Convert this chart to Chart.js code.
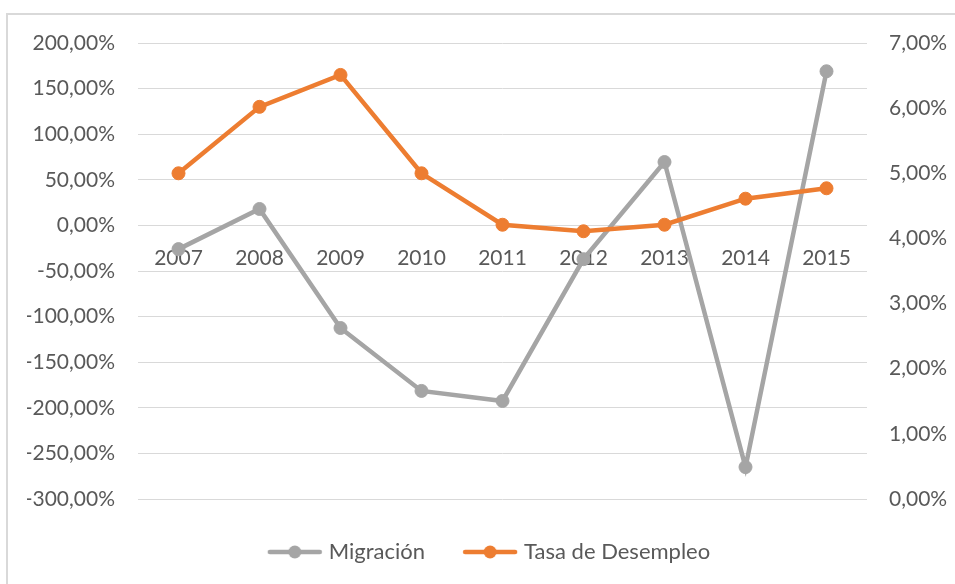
<!DOCTYPE html>
<html>
<head>
<meta charset="utf-8">
<script src="https://cdn.jsdelivr.net/npm/chart.js@4.4.0/dist/chart.umd.min.js"></script>
<style>
body { margin: 0; background: #fff; overflow: hidden; }
#frame { position: absolute; left: 6px; top: 13px; width: 1000px; height: 1000px; border: 2px solid #d9d9d9; }
#mycanvas { position: absolute; left: 0; top: 0; }
</style>
</head>
<body>
<div id="frame"></div>
<canvas id="mycanvas" width="955" height="584"></canvas>
<script>
// values, in percent
var years = ['2007', '2008', '2009', '2010', '2011', '2012', '2013', '2014', '2015'];
var migracion = [-26, 18, -112.5, -181.5, -192.5, -37, 69.5, -265, 169];
var desempleo = [5.0, 6.02, 6.51, 5.0, 4.21, 4.11, 4.21, 4.61, 4.77];

var leftMin = -300, leftMax = 200, leftStep = 50;
var rightMin = 0, rightMax = 7, rightStep = 1;

var grey = '#a5a5a5';
var orange = '#ed7d31';
var textColor = '#595959';

Chart.defaults.font.family = 'Lato';
Chart.defaults.font.size = 21;
Chart.defaults.color = textColor;

function pct(v) {
	return Number(v).toFixed(2).replace('.', ',') + '%';
}

// line + dot sample for the legend
function legendMark(color) {
	var c = document.createElement('canvas');
	c.width = 60;
	c.height = 16;
	var g = c.getContext('2d');
	g.strokeStyle = color;
	g.lineWidth = 4.5;
	g.lineCap = 'round';
	g.beginPath();
	g.moveTo(5, 8);
	g.lineTo(55, 8);
	g.stroke();
	g.fillStyle = color;
	g.beginPath();
	g.arc(30, 8, 6.5, 0, Math.PI * 2);
	g.fill();
	return c;
}
var marks = [legendMark(grey), legendMark(orange)];

var chartdata = {
	labels: years,
	datasets: [
		{
			label: 'Migración',
			data: migracion,
			yAxisID: 'y',
			order: 2,
			borderColor: grey,
			backgroundColor: grey,
			borderWidth: 4.5,
			pointRadius: 6.5,
			pointBorderWidth: 1,
			pointBackgroundColor: grey,
			pointBorderColor: grey,
			tension: 0,
			fill: false
		},
		{
			label: 'Tasa de Desempleo',
			data: desempleo,
			yAxisID: 'y1',
			order: 1,
			borderColor: orange,
			backgroundColor: orange,
			borderWidth: 4.5,
			pointRadius: 6.5,
			pointBorderWidth: 1,
			pointBackgroundColor: orange,
			pointBorderColor: orange,
			tension: 0,
			fill: false
		}
	]
};

var ctx = document.getElementById('mycanvas');

var LineGraph = new Chart(ctx, {
	type: 'line',
	data: chartdata,
	options: {
		responsive: false,
		animation: false,
		layout: { padding: { top: 43, bottom: 11, left: 27, right: 0 } },
		plugins: {
			tooltip: { enabled: false },
			legend: {
				position: 'bottom',
				labels: {
					usePointStyle: true,
					pointStyleWidth: 46,
					padding: 42,
					color: textColor,
					font: { size: 22 },
					generateLabels: function(chart) {
						return chart.data.datasets.map(function(ds, i) {
							return {
								text: ds.label,
								pointStyle: marks[i],
								fontColor: textColor,
								hidden: false,
								datasetIndex: i,
								lineWidth: 0,
								strokeStyle: 'rgba(0,0,0,0)',
								fillStyle: 'rgba(0,0,0,0)'
							};
						});
					}
				}
			}
		},
		scales: {
			x: {
				position: { y: 0 },
				offset: true,
				z: 1,
				grid: { display: false, drawTicks: false },
				border: { display: false },
				ticks: { padding: 20, color: textColor, maxRotation: 0 }
			},
			y: {
				position: 'left',
				min: leftMin,
				max: leftMax,
				ticks: { stepSize: leftStep, padding: 23, color: textColor, callback: pct },
				grid: { color: '#d9d9d9', lineWidth: 1, drawTicks: false },
				border: { display: false },
				afterFit: function(s) { s.width = 111; }
			},
			y1: {
				position: 'right',
				min: rightMin,
				max: rightMax,
				ticks: { stepSize: rightStep, padding: 22, color: textColor, callback: pct },
				grid: { display: false, drawTicks: false },
				border: { display: false },
				afterFit: function(s) { s.width = 88; }
			}
		}
	}
});
</script>
</body>
</html>
